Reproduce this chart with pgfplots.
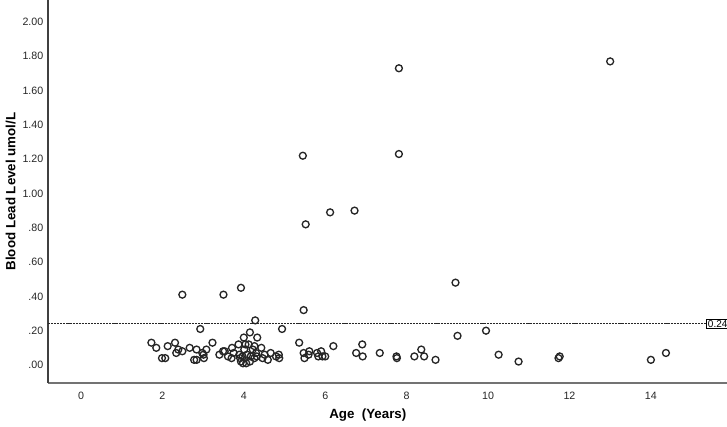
\documentclass[border=0pt]{standalone}
\usepackage{fontspec}
\setmainfont{Liberation Sans}
\usepackage{pgfplots}
\pgfplotsset{compat=1.18}
\begin{document}
\begin{tikzpicture}
\begin{axis}[
  scale only axis,
  width=509.25pt, height=287.25pt,
  xmin=-0.81, xmax=15.87,
  ymin=-0.105, ymax=2.128,
  axis x line=bottom, axis y line=left,
  axis line style={-, line width=1pt, color=black!55},
  y axis line style={color=black!75},
  xtick={0,2,...,14},
  ytick={0,0.2,...,2.0},
  yticklabels={.00,.20,.40,.60,.80,1.00,1.20,1.40,1.60,1.80,2.00},
  major tick length=0pt,
  tick label style={font=\fontsize{8}{9.5}\selectfont, color=black!85},
  /pgf/number format/assume math mode=true,
  xticklabel style={yshift=-3pt},
  yticklabel style={xshift=0pt},
  xlabel={Age\ \ (Years)},
  ylabel={Blood Lead Level umol/L},
  every axis x label/.style={at={(axis description cs:0.471,-0.085)}, anchor=center, font=\fontsize{10}{12}\selectfont\bfseries},
  every axis y label/.style={at={(axis description cs:-0.055,0.5)}, rotate=90, anchor=center, font=\fontsize{10}{12}\selectfont\bfseries},
  clip=false,
]
\addplot[black!85, line width=1pt, dash pattern=on 1.6pt off 0.7pt] coordinates {(-0.81,0.24) (15.36,0.24)};
\node[draw=black, line width=0.6pt, inner sep=1pt, anchor=west, font=\fontsize{7.5}{8.5}\selectfont, fill=white] at (axis cs:15.36,0.24) {0.24};
\addplot[only marks, mark=o, mark size=2.6pt, mark options={line width=1pt, draw=black!85}] coordinates {
(2.49,0.41) (3.50,0.41) (3.93,0.45) (4.28,0.26) (5.47,0.32) (5.45,1.22) (5.52,0.82) (6.12,0.89) (6.72,0.90) (7.81,1.73) (7.81,1.23) (9.20,0.48) (13.0,1.77)
(2.93,0.21) (4.94,0.21) (9.25,0.17) (9.95,0.20) (4.15,0.19) (4.33,0.16) (4.00,0.16)
(1.73,0.13) (1.85,0.10) (2.13,0.11) (2.31,0.13) (2.34,0.07) (2.39,0.09) (2.49,0.08) (1.99,0.04) (2.07,0.04) (2.67,0.10) (2.84,0.09) (2.98,0.07) (3.08,0.09) (3.23,0.13) (2.78,0.03) (2.84,0.03) (3.02,0.04) (3.01,0.06)
(3.40,0.06) (3.49,0.08) (3.53,0.08) (3.61,0.05) (3.70,0.04) (3.71,0.10) (3.75,0.07) (3.87,0.12) (3.91,0.04) (3.93,0.02) (3.97,0.05) (4.04,0.12) (4.12,0.12) (4.01,0.09) (4.15,0.02) (4.17,0.05) (4.22,0.09) (4.26,0.11) (4.26,0.04) (4.30,0.07) (4.32,0.05) (4.43,0.10) (4.46,0.04) (4.51,0.06) (4.59,0.03) (4.66,0.07) (4.79,0.05) (4.86,0.06) (4.87,0.04) (3.89,0.06) (4.08,0.06) (4.06,0.01) (3.98,0.01)
(5.36,0.13) (5.47,0.07) (5.49,0.04) (5.61,0.08) (5.59,0.06) (5.80,0.07) (5.83,0.05) (5.90,0.08) (5.93,0.05) (6.00,0.05) (6.20,0.11) (6.76,0.07) (6.91,0.12) (6.92,0.05) (7.34,0.07) (7.75,0.05) (7.76,0.04) (8.19,0.05) (8.36,0.09) (8.43,0.05) (8.71,0.03) (10.26,0.06) (10.75,0.02) (11.73,0.04) (11.76,0.05) (14.0,0.03) (14.37,0.07)
};
\end{axis}
\pgfresetboundingbox
\path (current axis.south west) ++(-36pt,-33pt) rectangle (current axis.north east);
\end{tikzpicture}
\end{document}
